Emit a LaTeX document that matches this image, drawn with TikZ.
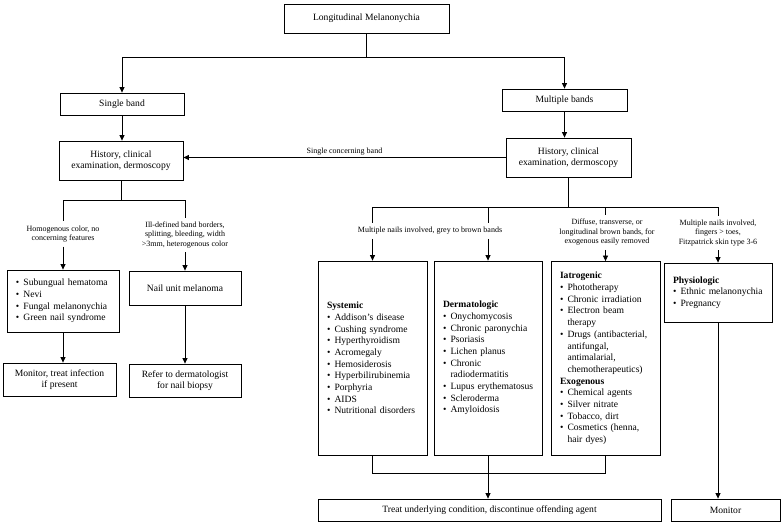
\documentclass[tikz,border=0pt]{standalone}
\usepackage{fontspec}
\setmainfont{Liberation Serif}
\usepackage{tikz}
\usetikzlibrary{arrows.meta,positioning,calc}
\newcommand{\bul}{\makebox[7.5pt][l]{\textbullet}}
\newcommand{\ind}{\hspace*{7.5pt}}
\tikzset{
  boxn/.style={rectangle, draw=black, line width=0.8pt, align=center, inner sep=1pt,
               font=\fontsize{9.6}{11}\selectfont},
  listbox/.style={rectangle, draw=black, line width=0.8pt, align=left, inner xsep=9pt,
                  inner ysep=1pt, text width=#1, font=\fontsize{9.6}{11.7}\selectfont},
  cond/.style={align=center, inner sep=4pt, font=\fontsize{8}{9.5}\selectfont},
  ln/.style={line width=0.8pt, draw=black},
  arr/.style={-{Triangle[length=5.5pt,width=5pt]}, line width=0.8pt, draw=black},
}
\begin{document}
\begin{tikzpicture}[x=1pt, y=-1pt]
\useasboundingbox (0,0) rectangle (781,526);
% upper part
\node[boxn, minimum width=165pt, minimum height=29pt] (lm) at (366.5,18.5) {Longitudinal Melanonychia};
\node[boxn, minimum width=124pt, minimum height=22pt] (single) at (122,104) {Single band};
\node[boxn, minimum width=125pt, minimum height=22pt] (multi) at (564.5,100) {Multiple bands};
\node[boxn, minimum width=124pt, minimum height=39pt] (histL) at (121,160.5) {History, clinical\\examination, dermoscopy};
\node[boxn, minimum width=125pt, minimum height=39pt] (histR) at (568.5,157.5) {History, clinical\\examination, dermoscopy};
\draw[ln] (lm.south) -- ++(0,24) coordinate (jT);
\draw[arr] (jT) -| (single.north);
\draw[arr] (jT) -| (multi.north);
\draw[arr] (single.south) -- (single.south |- histL.north);
\draw[arr] (multi.south) -- (multi.south |- histR.north);
\draw[arr] (histR.west) -- (histR.west -| histL.east) node[cond, midway, above, inner sep=2pt] (lblSingle) {Single concerning band};
% single band branch
\node[cond] (homog) at (63,234) {Homogenous color, no\\concerning features};
\node[cond] (ill) at (185,235) {Ill-defined band borders,\\splitting, bleeding, width\\>3mm, heterogenous color};
\node[listbox=94pt, minimum height=62pt] (benign) at (63,301) {\bul Subungual hematoma\\\bul Nevi\\\bul Fungal melanonychia\\\bul Green nail syndrome};
\node[boxn, minimum width=112pt, minimum height=34pt] (melan) at (185,288) {Nail unit melanoma};
\node[boxn, minimum width=113pt, minimum height=33pt] (monL) at (59.5,379.5) {Monitor, treat infection\\if present};
\node[boxn, minimum width=112pt, minimum height=33pt] (refer) at (185,380.5) {Refer to dermatologist\\for nail biopsy};
\draw[ln] (histL.south) -- ++(0,20) coordinate (jL);
\draw[ln] (jL -| homog) -- (jL -| ill);
\draw[ln] (jL -| homog) -- (homog.north);
\draw[ln] (jL -| ill) -- (ill.north);
\draw[arr] (homog.south) -- (benign.north);
\draw[arr] (ill.south) -- (melan.north);
\draw[arr] (benign.south) -- (benign.south |- monL.north);
\draw[arr] (melan.south) -- (refer.north);
% multiple bands branch
\node[cond] (grey) at (430,231) {Multiple nails involved, grey to brown bands};
\node[cond] (diff) at (607,232.5) {Diffuse, transverse, or\\longitudinal brown bands, for\\exogenous easily removed};
\node[cond] (phys) at (718,233) {Multiple nails involved,\\fingers > toes,\\Fitzpatrick skin type 3-6};
\node[listbox=91pt, minimum height=194pt] (sys) at (372.5,358) {\textbf{Systemic}\\\bul Addison’s disease\\\bul Cushing syndrome\\\bul Hyperthyroidism\\\bul Acromegaly\\\bul Hemosiderosis\\\bul Hyperbilirubinemia\\\bul Porphyria\\\bul AIDS\\\bul Nutritional disorders};
\node[listbox=90pt, minimum height=194pt] (derm) at (488,358) {\textbf{Dermatologic}\\\bul Onychomycosis\\\bul Chronic paronychia\\\bul Psoriasis\\\bul Lichen planus\\\bul Chronic\\\ind radiodermatitis\\\bul \mbox{Lupus erythematosus}\\\bul Scleroderma\\\bul Amyloidosis};
\node[listbox=91pt, minimum height=194pt] (iatro) at (605.5,358.5) {\textbf{Iatrogenic}\\\bul Phototherapy\\\bul Chronic irradiation\\\bul Electron beam\\\ind therapy\\\bul Drugs (antibacterial,\\\ind antifungal,\\\ind antimalarial,\\\ind chemotherapeutics)\\\textbf{Exogenous}\\\bul Chemical agents\\\bul Silver nitrate\\\bul Tobacco, dirt\\\bul Cosmetics (henna,\\\ind hair dyes)};
\node[listbox=90pt, minimum height=59pt] (physio) at (718,292.5) {\textbf{Physiologic}\\\bul Ethnic melanonychia\\\bul Pregnancy};
\node[boxn, minimum width=343pt, minimum height=22pt] (treat) at (489.5,510) {Treat underlying condition, discontinue offending agent};
\node[boxn, minimum width=109pt, minimum height=22pt] (monR) at (725.5,510) {Monitor};
\draw[ln] (histR.south) -- ++(0,30) coordinate (jR);
\draw[ln] (jR -| sys) -- (jR -| physio);
\draw[ln] (jR -| sys) -- (sys |- grey.north);
\draw[ln] (jR -| derm) -- (derm |- grey.north);
\draw[ln] (jR -| iatro) -- (iatro |- diff.north);
\draw[ln] (jR -| physio) -- (physio |- phys.north);
\draw[arr] (sys |- grey.south) -- (sys.north);
\draw[arr] (derm |- grey.south) -- (derm.north);
\draw[arr] (iatro |- diff.south) -- (iatro.north);
\draw[arr] (physio |- phys.south) -- (physio.north);
\draw[ln] (sys.south) -- ++(0,18) coordinate (jB) -| (iatro.south);
\draw[arr] (derm.south) -- (derm.south |- treat.north);
\draw[arr] (physio.south) -- (physio.south |- monR.north);
\end{tikzpicture}
\end{document}
